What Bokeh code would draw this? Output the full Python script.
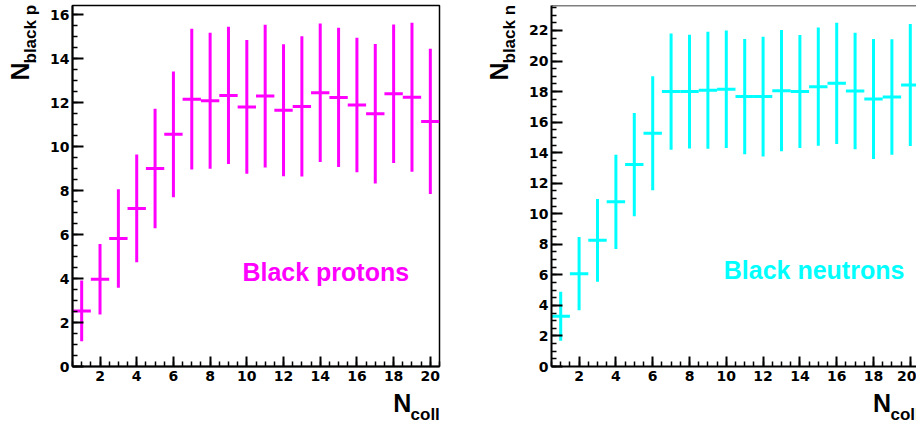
import math

from bokeh.embed import file_html
from bokeh.layouts import row
from bokeh.models import ColumnDataSource, FixedTicker, Label, Range1d, Span
from bokeh.plotting import figure
from bokeh.resources import INLINE

# ---- data: mean multiplicity of black particles vs number of collisions ----
n_coll = [1, 2, 3, 4, 5, 6, 7, 8, 9, 10, 11, 12, 13, 14, 15, 16, 17, 18, 19, 20]

protons_mean = [2.53, 3.97, 5.82, 7.19, 9.01, 10.56, 12.16, 12.09, 12.33, 11.81,
                12.30, 11.66, 11.83, 12.45, 12.24, 11.90, 11.50, 12.41, 12.25, 11.15]
protons_err = [1.38, 1.60, 2.24, 2.45, 2.72, 2.86, 3.20, 3.09, 3.12, 3.04,
               3.25, 3.00, 3.19, 3.15, 3.17, 3.06, 3.17, 3.15, 3.39, 3.30]

neutrons_mean = [3.29, 6.08, 8.26, 10.78, 13.22, 15.27, 18.00, 18.00, 18.08, 18.15,
                 17.67, 17.67, 18.06, 18.00, 18.32, 18.54, 18.04, 17.52, 17.65, 18.43]
neutrons_err = [1.60, 2.40, 2.71, 3.08, 3.38, 3.73, 3.81, 3.72, 3.83, 3.85,
                3.77, 3.92, 3.97, 3.70, 3.87, 3.97, 3.81, 3.93, 3.78, 3.99]

x_ticks = [2, 4, 6, 8, 10, 12, 14, 16, 18, 20]
y_ticks_protons = [0, 2, 4, 6, 8, 10, 12, 14, 16]
y_ticks_neutrons = [0, 2, 4, 6, 8, 10, 12, 14, 16, 18, 20, 22]

# ---- styling ----
FONT = "Liberation Sans"
TICK_FONT = "DejaVu Sans"
MAGENTA = "#ff00ff"
CYAN = "#00ffff"
HEIGHT = 425
LEFT_W, RIGHT_W = 480, 436
B_LEFT, B_RIGHT, B_TOP, B_BOTTOM = 71, 41, 5, 59
BIN_W = 1.0
X_START = 0.5
PX_PER_BIN = (LEFT_W - B_LEFT - B_RIGHT) / 20.0


def half_steps(lo, hi):
    n = int(round((hi - lo) / 0.5))
    return [lo + 0.5 * i for i in range(n + 1)]


def make_panel(mean, err, color, sub, label_text, label_xy, y_ticks, width,
               border_right, x_end, full_outline, places):
    y_end = 1.05 * max(m + e for m, e in zip(mean, err))
    p = figure(width=width, height=HEIGHT, output_backend="svg",
               toolbar_location=None,
               x_range=Range1d(X_START, x_end), y_range=Range1d(0, y_end),
               min_border_left=B_LEFT, min_border_right=border_right,
               min_border_top=B_TOP, min_border_bottom=B_BOTTOM,
               background_fill_color="white", border_fill_color="white")
    p.grid.visible = False

    src = ColumnDataSource(dict(
        x=n_coll,
        y=mean,
        lo=[m - e for m, e in zip(mean, err)],
        hi=[m + e for m, e in zip(mean, err)],
        x0=[x - BIN_W / 2 for x in n_coll],
        x1=[x + BIN_W / 2 for x in n_coll],
    ))
    # vertical error bars and horizontal bin-width bars
    p.segment(x0="x", y0="lo", x1="x", y1="hi", source=src,
              line_color=color, line_width=3, line_cap="butt")
    p.segment(x0="x0", y0="y", x1="x1", y1="y", source=src,
              line_color=color, line_width=3, line_cap="butt")

    # axes: inward ticks, bold labels
    p.xaxis.ticker = FixedTicker(ticks=x_ticks, minor_ticks=half_steps(0.5, 21.0))
    p.yaxis.ticker = FixedTicker(ticks=y_ticks, minor_ticks=half_steps(0.0, 24.0))
    for ax, tin in ((p.xaxis, 10), (p.yaxis, 11)):
        ax.axis_line_width = 2
        ax.axis_line_color = "black"
        ax.major_tick_in = tin
        ax.major_tick_out = 0
        ax.minor_tick_in = 5
        ax.minor_tick_out = 0
        ax.major_tick_line_width = 2
        ax.minor_tick_line_width = 1.5
        ax.major_label_text_font = TICK_FONT
        ax.major_label_text_font_style = "bold"
        ax.major_label_text_font_size = "14px"
        ax.major_label_text_color = "black"
    p.xaxis.major_label_standoff = 4
    p.yaxis.major_label_standoff = 3

    if full_outline:
        p.outline_line_color = "black"
        p.outline_line_width = 1.5
    else:
        p.outline_line_color = None
        p.add_layout(Span(location=y_end, dimension="width",
                          line_color="black", line_width=1.5))

    bold = dict(text_font=FONT, text_font_style="bold", text_color="black",
                text_baseline="middle")

    # x title: N_coll at the right end of the axis
    x_sub = Label(x=19.72, y=0, y_offset=-48, text="coll",
                  text_font_size="17px", text_align="center", **bold)
    x_main = Label(x=18.47, y=0, y_offset=-36.5, text="N",
                   text_font_size="25px", text_align="center", **bold)

    # y title: N_black x, reading upwards towards the top of the axis
    y_sub = Label(x=X_START, y=y_end, x_offset=-42.3, y_offset=-58,
                  angle=math.pi / 2, text=sub, text_font_size="17px",
                  text_align="left", **bold)
    y_main = Label(x=X_START, y=y_end, x_offset=-53, y_offset=-75,
                   angle=math.pi / 2, text="N", text_font_size="25px",
                   text_align="left", **bold)

    # titles live in the side panels so they are not clipped to the frame
    for lab, key in ((x_sub, "x_sub"), (x_main, "x_main"),
                     (y_sub, "y_sub"), (y_main, "y_main")):
        p.add_layout(lab, places[key])

    # panel caption
    p.add_layout(Label(x=label_xy[0], y=label_xy[1], text=label_text,
                       text_font=FONT, text_font_style="bold",
                       text_font_size="25px", text_color=color,
                       text_align="center", text_baseline="middle"))
    return p


left_end = X_START + (LEFT_W - B_LEFT - B_RIGHT) / PX_PER_BIN
right_end = X_START + (RIGHT_W - B_LEFT) / PX_PER_BIN

p1 = make_panel(protons_mean, protons_err, MAGENTA, "black p", "Black protons",
                (14.3, 4.31), y_ticks_protons, LEFT_W, B_RIGHT, left_end, True,
                dict(x_sub="right", x_main="below", y_sub="left", y_main="left"))
p2 = make_panel(neutrons_mean, neutrons_err, CYAN, "black n", "Black neutrons",
                (14.77, 6.31), y_ticks_neutrons, RIGHT_W, 0, right_end, False,
                dict(x_sub="below", x_main="left", y_sub="left", y_main="below"))

layout = row(p1, p2)
open("out.html", "w").write(file_html(layout, INLINE))
